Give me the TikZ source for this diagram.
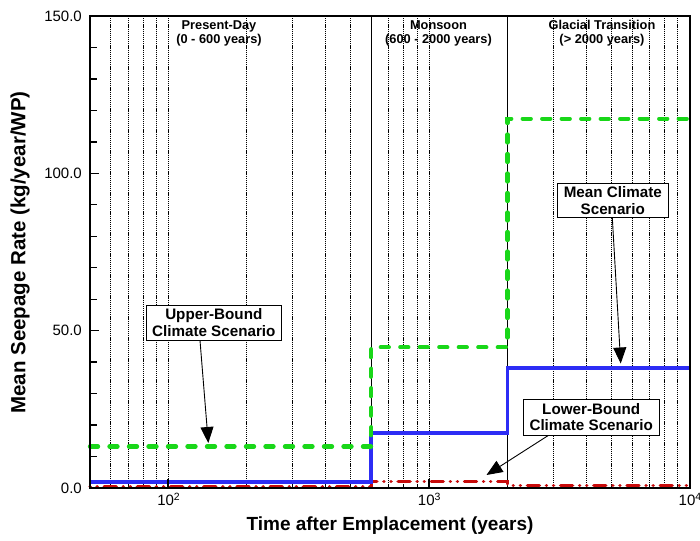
\documentclass[tikz,border=0pt]{standalone}
\usepackage{fontspec}
\setmainfont{Liberation Sans}
\usetikzlibrary{arrows.meta}
\definecolor{upgreen}{RGB}{25,215,25}
\definecolor{meanblue}{RGB}{45,45,245}
\definecolor{lowred}{RGB}{200,10,10}
\begin{document}
\begin{tikzpicture}[x=1pt,y=-1pt,
  gridline/.style={black, line width=0.65pt, dash pattern=on 1.2pt off 0.9pt},
  boundary/.style={black, line width=0.9pt},
  frame/.style={black, line width=2.2pt},
  tickmark/.style={black, line width=1.3pt},
  upperline/.style={upgreen, line width=4.3pt, line cap=round, dash pattern=on 8pt off 11.5pt},
  meanline/.style={meanblue, line width=3.8pt},
  lowerline/.style={lowred, line width=3.4pt, line cap=round, dash pattern=on 0.1pt off 7pt on 0.1pt off 7pt on 12pt off 7pt},
  ticklabel/.style={font=\fontsize{15}{16}\selectfont, inner sep=0pt},
  period/.style={font=\fontsize{12.8}{14}\selectfont\bfseries, align=center, inner sep=0pt},
  callout/.style={draw=black, fill=white, line width=0.9pt, align=center, inner sep=0pt,
    font=\fontsize{15.2}{16.8}\selectfont\bfseries},
  pointer/.style={black, line width=0.9pt, -{Triangle[length=16pt,width=13pt]}},
  axistitle/.style={font=\bfseries, inner sep=0pt}
]
\useasboundingbox (0,0) rectangle (700,540);
\fill[white] (0,0) rectangle (700,540);

% log-scale x positions: 10^2 at 168.3, one decade = 260.7
\def\xten{168.3}
\def\dec{260.7}
\def\ytop{16}
\def\ybot{488}

% vertical grid lines at every tick from 60 to 9000
\foreach \k in {6,7,8,9}
  \draw[gridline] ({\xten+(log10(\k)-1)*\dec},\ytop) -- ({\xten+(log10(\k)-1)*\dec},\ybot);
\foreach \k in {1,...,9}
  \draw[gridline] ({\xten+log10(\k)*\dec},\ytop) -- ({\xten+log10(\k)*\dec},\ybot);
\foreach \k in {1,...,9}
  \draw[gridline] ({\xten+(log10(\k)+1)*\dec},\ytop) -- ({\xten+(log10(\k)+1)*\dec},\ybot);

% climate period boundaries at 600 and 2000 years
\draw[boundary] (371.2,\ytop) -- (371.2,\ybot);
\draw[boundary] (507.5,\ytop) -- (507.5,\ybot);

% seepage rate step curves
\draw[lowerline] (90,486.6) -- (371.2,486.6) -- (371.2,481.7) -- (507.5,481.7) -- (507.5,485.2) -- (689.7,485.2);
\draw[meanline] (90,482.3) -- (371.2,482.3) -- (371.2,432.7) -- (507.5,432.7) -- (507.5,368.3) -- (689.7,368.3);
\draw[upperline] (90,446.5) -- (371.2,446.5) -- (371.2,347.3) -- (507.5,347.3) -- (507.5,118.7) -- (689.7,118.7);

% y ticks: major every 50, minor every 10
\foreach \v in {10,20,30,40,60,70,80,90,110,120,130,140}
  \draw[tickmark] (90,{\ybot-\v*3.1467}) -- (96.5,{\ybot-\v*3.1467});
\foreach \v in {0,50,100,150}
  \draw[tickmark] (90,{\ybot-\v*3.1467}) -- (99,{\ybot-\v*3.1467});
% x major ticks
\draw[tickmark, line width=1.8pt] (168.3,\ybot) -- (168.3,479);
\draw[tickmark, line width=1.8pt] (429,\ybot) -- (429,479);

% plot frame
\draw[frame] (90,\ytop) rectangle (689.7,\ybot);

% tick labels
\node[ticklabel, anchor=east] (y150) at (82,16) {150.0};
\node[ticklabel, anchor=east] (y100) at (82,173.3) {100.0};
\node[ticklabel, anchor=east] (y50) at (82,330.7) {50.0};
\node[ticklabel, anchor=east] (y0) at (82,488) {0.0};
\node[ticklabel, anchor=north] (x2) at (168.8,493) {10\textsuperscript{2}};
\node[ticklabel, anchor=north] (x3) at (429.5,493) {10\textsuperscript{3}};
\node[ticklabel, anchor=north] (x4) at (690.2,493) {10\textsuperscript{4}};

% axis titles
\node[axistitle, font=\fontsize{19}{20}\selectfont\bfseries] (xtitle) at (390,526) {Time after Emplacement (years)};
\node[axistitle, font=\fontsize{20.5}{21}\selectfont\bfseries, rotate=90] (ytitle) at (20,252.5) {Mean Seepage Rate (kg/year/WP)};

% climate period headings
\node[period] (present) at (219,33) {Present-Day\\(0 - 600 years)};
\node[period] (monsoon) at (438.5,33) {Monsoon\\(600 - 2000 years)};
\node[period] (glacial) at (602,33) {Glacial Transition\\(> 2000 years)};

% scenario callouts
\node[callout, minimum width=134.3pt, minimum height=35pt] (ub) at (213.8,322.5) {Upper-Bound\\Climate Scenario};
\node[callout, minimum width=111pt, minimum height=34pt] (mc) at (612.8,200.3) {Mean Climate\\Scenario};
\node[callout, minimum width=135.7pt, minimum height=36pt] (lb) at (591.2,417) {Lower-Bound\\Climate Scenario};

\coordinate (ubtip) at (208.3,443);
\coordinate (mctip) at (620.7,363.5);
\coordinate (lbtip) at (486.5,475);

\draw[pointer] ([xshift=-13.8pt]ub.south) -- (ubtip);
\draw[pointer] ([xshift=-0.5pt]mc.south) -- (mctip);
\draw[pointer] ([xshift=-42.9pt]lb.south) -- (lbtip);
\end{tikzpicture}
\end{document}
